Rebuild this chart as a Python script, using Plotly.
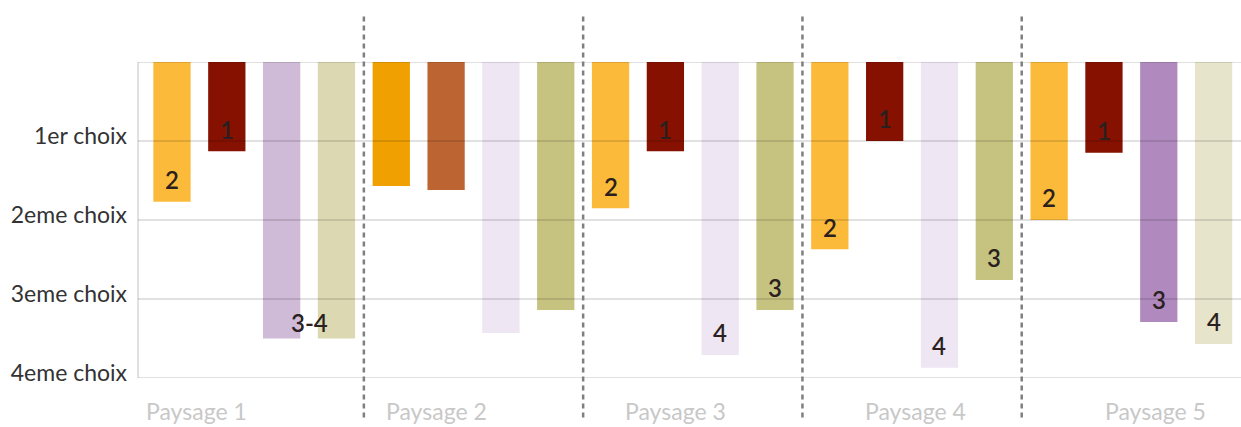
import plotly.graph_objects as go

# Landscapes compared and the rank labels shown on the axis
paysages = ["Paysage 1", "Paysage 2", "Paysage 3", "Paysage 4", "Paysage 5"]
choix_vals = [1, 2, 3, 4]
choix_labels = ["1er choix", "2eme choix", "3eme choix", "4eme choix"]

# Mean rank of each of the four series per landscape
serie_a = [1.77, 1.57, 1.85, 2.37, 2.00]
serie_b = [1.13, 1.62, 1.13, 1.00, 1.15]
serie_c = [3.50, 3.43, 3.71, 3.87, 3.29]
serie_d = [3.50, 3.14, 3.14, 2.76, 3.57]

# Rank labels written inside the bars ("" = no label)
texte_a = ["2", "", "2", "2", "2"]
texte_b = ["1", "", "1", "1", "1"]
texte_c = ["", "", "4", "4", "3"]
texte_d = ["", "", "3", "3", "4"]
texte_commun = {"Paysage 1": "3-4"}  # label shared by series c and d

# Bar colours, one per landscape for each series
couleurs_a = ["#FCBA3A", "#F0A000", "#FCBA3A", "#FCBA3A", "#FCBA3A"]
couleurs_b = ["#861100", "#BC6432", "#861100", "#861100", "#861100"]
couleurs_c = ["#CFBAD7", "#EEE6F2", "#EEE6F2", "#EEE6F2", "#B08ABE"]
couleurs_d = ["#DCD9B2", "#C6C380", "#C6C380", "#C6C380", "#E6E4CB"]

series = [
    (serie_a, couleurs_a, texte_a),
    (serie_b, couleurs_b, texte_b),
    (serie_c, couleurs_c, texte_c),
    (serie_d, couleurs_d, texte_d),
]

fig = go.Figure()
for vals, cols, _ in series:
    fig.add_trace(go.Bar(x=paysages, y=vals, marker=dict(color=cols, line=dict(width=0)),
                         hoverinfo="skip", showlegend=False))

n_series = len(series)
slot = 1.0 / n_series
label_font = dict(family="Lato", size=24, color="#2B1F1F", weight=600)
annotations = []
for k, (vals, _, labels) in enumerate(series):
    off = -0.5 + slot * (k + 0.5)
    for i, (v, t) in enumerate(zip(vals, labels)):
        if t:
            annotations.append(dict(x=i + off, y=v - 0.28, xref="x", yref="y", text=t,
                                    showarrow=False, font=label_font))
for p, t in texte_commun.items():
    i = paysages.index(p)
    v = max(serie_c[i], serie_d[i])
    annotations.append(dict(x=i + 0.5 - slot, y=v - 0.2, xref="x", yref="y", text=t,
                            showarrow=False, font=label_font))

# Landscape names under the plot
for j, p in enumerate(paysages):
    annotations.append(dict(x=0.053 + j * 0.21735, y=-0.106, xref="paper", yref="paper",
                            text=p, showarrow=False, xanchor="center", yanchor="middle",
                            font=dict(family="Lato", size=23, color="#C8C8C8")))

shapes = []
grid_col = "rgba(0,0,0,0.16)"
for v in [0] + choix_vals:
    shapes.append(dict(type="line", xref="paper", yref="y", x0=0, x1=1, y0=v, y1=v,
                       line=dict(color=grid_col, width=1.5), layer="above"))
shapes.append(dict(type="line", xref="paper", yref="y", x0=0, x1=0, y0=0, y1=4,
                   line=dict(color=grid_col, width=1.5), layer="above"))
for i in range(len(paysages) - 1):
    shapes.append(dict(type="line", xref="x", yref="paper", x0=i + 0.5, x1=i + 0.5,
                       y0=-0.125, y1=1.157,
                       line=dict(color="#7F7F7F", width=2.5, dash="5px,4px"), layer="above"))

fig.update_layout(
    width=1241, height=427,
    margin=dict(l=138, r=0, t=62, b=49),
    paper_bgcolor="white", plot_bgcolor="white",
    barmode="group", bargap=0, bargroupgap=0.32,
    xaxis=dict(type="category", range=[-0.53, 4.5], showticklabels=False,
               showgrid=False, zeroline=False, showline=False, fixedrange=True),
    yaxis=dict(range=[4, 0], tickmode="array", tickvals=choix_vals, ticktext=choix_labels,
               showgrid=False, zeroline=False, showline=False, ticks="",
               ticklabelstandoff=10, ticklabelshift=5,
               tickfont=dict(family="Lato", size=23, color="#333333"), fixedrange=True),
    shapes=shapes,
    annotations=annotations,
)

fig.write_html("out.html")
